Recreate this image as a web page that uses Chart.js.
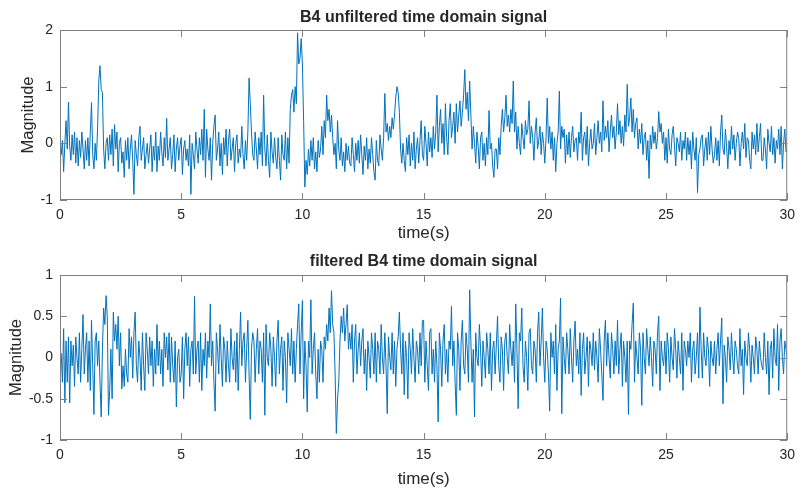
<!DOCTYPE html>
<html>
<head>
<meta charset="utf-8">
<script src="https://cdn.jsdelivr.net/npm/chart.js@4.4.1/dist/chart.umd.min.js"></script>
<style>
  html, body { margin: 0; padding: 0; background: #fff; }
  #wrap { position: relative; width: 802px; height: 491px; }
  canvas { position: absolute; left: 0; }
  #topChart { top: 0; }
  #bottomChart { top: 245px; }
</style>
</head>
<body>
<div id="wrap">
  <canvas id="topChart" width="802" height="245"></canvas>
  <canvas id="bottomChart" width="802" height="246"></canvas>
</div>
<script>
// sampled signal, 20 values per second, 0..30 s (one row = one second)
const sampleStep = 0.05;

const unfiltered = [
  0.1, -0.2, 0.05, -0.5, 0.0, 0.4, -0.1, 0.73, -0.05, -0.3, 0.15, -0.2, 0.2, -0.35, 0.1, -0.4, 0.05, -0.25, 0.2, -0.1,
  -0.45, 0.05, -0.3, 0.1, -0.4, 0.2, 0.72, -0.2, -0.45, 0.0, -0.3, 0.25, 1.1, 1.37, 0.95, 0.9, -0.1, -0.45, 0.0, 0.1,
  -0.3, 0.15, -0.2, 0.25, -0.4, 0.33, -0.1, 0.2, -0.5, 0.0, 0.1, -0.35, -0.15, -0.6, 0.05, -0.3, 0.1, -0.45, -0.1, 0.15,
  -0.3, -0.9, 0.05, -0.2, -0.4, 0.1, 0.3, -0.3, -0.1, 0.1, -0.45, -0.2, 0.0, -0.35, -0.1, 0.15, -0.5, -0.05, -0.3, 0.2,
  -0.5, -0.05, -0.3, 0.2, -0.15, -0.4, 0.1, -0.25, 0.44, -0.3, -0.1, 0.1, -0.45, -0.2, 0.15, -0.5, -0.1, 0.1, -0.3, -0.05,
  0.1, -0.55, -0.1, 0.05, -0.3, -0.1, -0.4, 0.15, -0.9, 0.0, -0.2, -0.45, 0.2, -0.1, -0.35, 0.1, -0.2, 0.25, -0.3, 0.6,
  -0.6, 0.25, -0.1, -0.3, 0.1, -0.65, 0.0, 0.3, 0.5, -0.3, -0.1, 0.2, -0.4, 0.0, -0.55, 0.1, -0.2, 0.25, -0.4, 0.05,
  0.25, -0.3, -0.1, 0.1, -0.5, 0.0, 0.15, -0.35, -0.1, -0.25, 0.3, -0.2, -0.45, 0.05, -0.3, 0.2, 1.15, 0.7, 0.2, -0.2,
  -0.3, 0.2, -0.1, -0.45, 0.1, -0.2, 0.2, -0.4, 0.85, -0.1, -0.4, 0.15, -0.3, -0.6, 0.2, -0.15, -0.35, 0.1, -0.25, -0.45,
  0.1, -0.3, -0.65, 0.15, -0.2, -0.3, 0.2, -0.45, 0.1, -0.35, 0.6, 0.85, 0.95, 0.55, 1.0, 0.7, 1.95, 1.4, 1.5, 1.85,
  1.4, 0.4, -0.77, -0.3, -0.55, -0.1, -0.4, 0.05, -0.3, 0.1, -0.45, -0.15, -0.5, 0.05, -0.25, -0.1, 0.3, -0.2, 0.4, 0.1,
  0.85, 0.4, 0.6, 0.2, 0.5, 0.1, -0.2, 0.0, -0.45, 0.4, -0.1, -0.3, 0.1, -0.4, -0.15, -0.5, 0.0, -0.3, -0.05, -0.35,
  -0.4, 0.1, -0.2, -0.5, 0.0, -0.3, 0.05, -0.35, 0.15, -0.2, -0.55, -0.05, -0.3, 0.1, -0.45, -0.1, -0.35, 0.1, -0.2, -0.5,
  -0.65, 0.05, -0.3, -0.4, 0.15, -0.1, -0.3, 0.1, 0.88, 0.2, 0.35, 0.05, 0.3, 0.1, 0.45, 0.25, 0.5, 0.8, 1.0, 0.9,
  0.55, -0.1, -0.35, 0.0, -0.3, -0.5, 0.1, -0.2, 0.15, -0.4, 0.0, -0.3, 0.2, -0.45, -0.1, 0.1, -0.35, 0.05, 0.4, -0.2,
  -0.3, 0.3, 0.0, -0.4, 0.2, -0.15, 0.1, -0.25, 0.3, -0.1, 0.2, 0.85, -0.15, 0.3, 0.6, 0.0, 0.35, -0.2, 0.7, 0.1,
  -0.2, 0.4, 0.7, 0.1, 0.3, 0.55, 0.0, 0.7, 0.2, 0.5, 0.75, 0.3, 0.55, 0.85, 1.3, 0.6, 0.9, 0.4, 1.1, 0.5,
  -0.1, 0.3, 0.0, -0.35, 0.2, -0.05, -0.45, 0.1, 0.2, -0.3, 0.0, -0.4, 0.1, -0.2, 0.58, -0.1, 0.0, -0.4, -0.6, -0.1,
  -0.1, -0.45, 0.1, -0.2, 0.3, 0.6, 0.2, 0.45, 0.85, 0.3, 0.5, 0.2, 0.6, 0.35, 1.1, 0.2, 0.55, -0.1, 0.3, 0.0,
  -0.2, 0.35, 0.1, -0.1, 0.4, 0.15, 0.25, 0.75, 0.0, 0.3, 0.1, -0.3, 0.2, 0.45, -0.1, 0.05, 0.3, -0.2, 0.2, 0.0,
  -0.35, 0.1, 0.8, 0.0, 0.3, -0.1, 0.2, -0.3, 0.1, -0.5, 0.0, 0.2, 0.92, -0.1, 0.3, 0.1, 0.25, -0.35, 0.15, -0.2,
  0.2, -0.25, 0.1, 0.3, -0.15, 0.05, 0.1, -0.3, 0.2, 0.0, 0.55, -0.3, 0.1, 0.2, -0.2, 0.3, -0.4, 0.0, 0.25, -0.1,
  0.0, 0.35, -0.2, 0.1, 0.4, 0.0, 0.2, -0.15, 0.75, 0.05, 0.3, 0.1, 0.4, -0.15, 0.2, 0.5, 0.1, 0.3, -0.1, 0.2,
  0.7, 0.15, 0.4, 0.0, 0.3, -0.05, 0.5, 0.2, 1.04, 0.3, 0.45, 0.8, 0.2, 0.6, 0.1, 0.35, 0.45, -0.1, 0.25, 0.0,
  0.35, -0.2, 0.1, 0.2, -0.3, 0.05, -0.62, 0.15, -0.1, 0.3, 0.0, 0.2, -0.1, 0.1, 0.56, 0.2, 0.35, 0.0, 0.2, -0.3,
  0.1, -0.35, 0.25, -0.1, -0.2, 0.15, 0.3, -0.05, -0.4, 0.1, 0.0, -0.15, 0.2, -0.3, 0.05, -0.1, 0.2, -0.3, 0.1, -0.2,
  0.05, -0.45, 0.2, -0.1, -0.3, 0.1, -0.87, -0.2, -0.1, 0.1, 0.15, -0.4, -0.1, 0.1, -0.3, 0.2, -0.2, 0.3, -0.1, -0.35,
  -0.2, 0.1, -0.3, 0.05, -0.4, 0.2, 0.5, -0.1, -0.2, 0.25, -0.05, -0.45, 0.05, -0.2, 0.3, -0.1, 0.15, -0.3, 0.0, 0.2,
  0.1, -0.4, 0.0, 0.2, -0.1, 0.35, -0.25, 0.1, 0.05, -0.3, -0.45, 0.2, -0.1, 0.15, -0.2, 0.35, -0.15, 0.1, 0.35, -0.3,
  -0.3, 0.1, -0.1, -0.45, 0.25, 0.0, -0.15, 0.3, -0.2, 0.1, -0.35, 0.05, -0.1, 0.25, -0.2, 0.3, -0.45, 0.0, 0.25, -0.15,
  -0.1
];

const filtered = [
  0.0, 0.05, -0.3, 0.35, -0.55, 0.2, -0.3, 0.25, -0.55, 0.2, -0.1, 0.15, -0.35, 0.25, 0.0, -0.2, 0.3, -0.3, 0.1, 0.52,
  -0.2, 0.1, 0.3, -0.3, 0.2, -0.4, 0.45, -0.1, -0.69, 0.2, 0.3, -0.1, 0.2, -0.3, -0.72, 0.1, 0.6, 0.4, 0.75, 0.5,
  -0.7, -0.4, 0.1, -0.5, 0.55, 0.2, 0.4, 0.1, 0.5, -0.1, 0.3, -0.38, -0.1, -0.35, 0.1, -0.2, -0.3, 0.35, 0.0, 0.25,
  -0.25, 0.3, 0.55, -0.1, -0.3, 0.2, 0.0, -0.4, 0.3, -0.1, -0.4, 0.3, 0.1, -0.2, 0.25, -0.1, 0.2, -0.35, 0.1, -0.2,
  0.4, -0.1, 0.2, -0.2, 0.1, -0.35, 0.3, 0.0, 0.25, -0.15, 0.3, -0.3, 0.25, -0.1, -0.3, 0.2, -0.6, 0.0, 0.1, -0.3,
  -0.2, 0.25, -0.5, 0.1, 0.3, -0.1, 0.25, -0.35, 0.1, 0.2, -0.2, 0.74, -0.2, 0.1, 0.2, -0.3, 0.3, -0.4, 0.1, -0.1,
  0.3, -0.25, 0.2, 0.0, 0.65, -0.1, 0.2, -0.3, -0.65, 0.3, 0.1, -0.2, 0.4, 0.0, -0.35, 0.25, 0.1, -0.3, 0.2, -0.1,
  -0.3, 0.35, 0.0, -0.15, 0.2, -0.3, 0.3, -0.4, 0.1, 0.55, -0.1, 0.2, 0.3, -0.3, 0.1, 0.45, -0.2, -0.75, 0.1, 0.3,
  0.2, -0.3, 0.1, 0.35, -0.2, 0.2, 0.1, -0.3, 0.3, -0.7, 0.4, 0.0, -0.1, 0.3, 0.1, -0.35, 0.25, 0.0, -0.35, 0.2,
  0.45, -0.2, 0.1, 0.25, -0.4, 0.2, 0.0, -0.55, 0.3, 0.1, -0.1, 0.35, -0.2, 0.2, -0.3, 0.1, 0.4, 0.65, -0.2, 0.3,
  0.69, -0.5, 0.2, -0.1, -0.66, 0.2, 0.0, 0.7, -0.2, 0.1, 0.3, -0.2, -0.5, 0.1, -0.3, 0.2, 0.1, -0.3, 0.25, 0.1,
  0.4, 0.2, 0.6, 0.3, 0.81, 0.4, 0.3, -0.2, -0.92, -0.5, -0.3, 0.2, 0.5, 0.3, 0.6, 0.2, 0.4, 0.64, 0.1, 0.3,
  0.1, 0.4, -0.3, 0.2, 0.4, -0.2, 0.1, 0.3, -0.1, 0.2, 0.35, -0.2, 0.1, -0.4, 0.2, 0.0, -0.25, 0.3, 0.1, -0.2,
  0.3, -0.3, 0.2, 0.1, -0.2, 0.4, 0.0, -0.2, 0.3, -0.1, -0.68, 0.25, 0.0, -0.15, 0.3, -0.2, 0.2, -0.35, 0.1, 0.25,
  0.55, 0.1, -0.2, 0.3, -0.45, 0.2, 0.0, -0.5, 0.3, 0.1, -0.2, 0.35, 0.0, -0.3, 0.2, 0.1, -0.2, 0.3, -0.1, 0.45,
  0.45, -0.3, 0.2, -0.1, -0.4, 0.3, 0.35, -0.2, 0.1, -0.3, 0.2, -0.1, -0.78, 0.3, 0.1, -0.35, 0.2, 0.4, -0.2, 0.1,
  -0.3, 0.2, 0.1, 0.62, -0.1, 0.2, -0.3, -0.7, 0.3, 0.1, -0.4, 0.2, 0.45, -0.1, -0.2, 0.3, 0.1, -0.3, 0.82, 0.2,
  -0.3, 0.1, -0.72, 0.3, 0.0, -0.1, 0.4, 0.1, -0.35, 0.2, 0.0, -0.25, 0.3, 0.1, -0.2, 0.3, -0.4, 0.1, 0.2, -0.2,
  0.15, 0.5, -0.1, -0.3, 0.25, 0.1, -0.4, 0.2, 0.3, 0.0, -0.2, 0.4, 0.1, -0.1, 0.2, -0.3, 0.65, 0.1, -0.62, 0.3,
  0.2, 0.6, -0.1, -0.3, 0.2, 0.0, -0.4, 0.3, 0.35, -0.1, -0.2, 0.2, 0.1, -0.3, 0.3, 0.55, -0.1, 0.2, 0.6, 0.0,
  -0.3, 0.2, 0.1, -0.2, -0.65, 0.3, 0.0, 0.2, -0.2, 0.4, -0.4, 0.1, 0.2, 0.72, -0.68, 0.25, 0.0, -0.2, 0.3, 0.1,
  -0.2, 0.35, 0.0, -0.3, 0.2, 0.44, -0.1, 0.1, -0.2, 0.3, -0.46, 0.1, 0.3, -0.2, 0.0, 0.25, -0.35, 0.2, 0.1, -0.1,
  0.3, -0.15, 0.2, 0.0, -0.3, 0.35, 0.1, -0.2, -0.52, 0.2, 0.45, -0.1, 0.3, 0.0, -0.25, 0.3, 0.1, -0.2, 0.2, -0.1,
  0.45, -0.2, 0.1, 0.3, -0.35, 0.2, 0.0, -0.3, 0.2, -0.69, 0.2, 0.1, 0.4, 0.66, -0.3, 0.2, 0.0, -0.2, 0.3, 0.1,
  -0.58, 0.3, 0.0, -0.2, 0.35, 0.1, -0.1, 0.25, 0.0, -0.35, 0.2, 0.1, -0.2, 0.3, 0.5, -0.4, 0.2, 0.0, -0.1, 0.2,
  -0.2, 0.3, 0.1, -0.3, 0.25, 0.0, -0.15, 0.35, 0.1, -0.25, 0.2, 0.0, -0.2, 0.3, -0.4, 0.2, 0.1, -0.1, 0.2, 0.0,
  0.3, -0.3, 0.1, 0.2, -0.2, 0.0, 0.3, -0.25, 0.61, 0.1, -0.25, 0.3, 0.0, -0.1, 0.25, 0.1, -0.35, 0.2, 0.0, -0.1,
  0.2, -0.2, 0.1, 0.3, -0.1, 0.2, 0.48, -0.56, 0.15, 0.0, -0.3, 0.25, 0.1, -0.15, 0.3, 0.0, -0.2, 0.2, 0.1, -0.1,
  -0.2, 0.35, -0.1, 0.1, -0.45, 0.2, 0.0, -0.1, 0.3, 0.1, -0.3, 0.15, 0.0, -0.2, 0.25, 0.1, -0.2, 0.2, 0.0, -0.1,
  -0.15, 0.3, 0.0, -0.2, 0.2, -0.45, 0.1, 0.2, -0.25, 0.35, 0.0, -0.1, 0.4, -0.4, 0.2, 0.35, 0.0, -0.2, 0.2, 0.1,
  0.0
];

const xTicks = [0, 5, 10, 15, 20, 25, 30];
const topYTicks = [-1, 0, 1, 2];
const bottomYTicks = [-1, -0.5, 0, 0.5, 1];

const FONT = "'Liberation Sans', Arial, Helvetica, sans-serif";
const lineColor = '#0072BD';
const textColor = '#262626';
const boxColor = '#808080';

// box + inward tick marks, MATLAB style
const matlabBox = {
    id: 'matlabBox',
    afterDatasetsDraw(chart) {
        const { ctx, chartArea: a, scales: { x, y } } = chart;
        const tl = 7;
        ctx.save();
        ctx.strokeStyle = boxColor;
        ctx.lineWidth = 1;
        ctx.strokeRect(a.left + 0.5, a.top + 0.5, a.right - a.left - 1, a.bottom - a.top - 1);
        ctx.beginPath();
        x.ticks.forEach(t => {
            const px = Math.round(x.getPixelForValue(t.value)) + 0.5;
            ctx.moveTo(px, a.bottom); ctx.lineTo(px, a.bottom - tl);
            ctx.moveTo(px, a.top); ctx.lineTo(px, a.top + tl);
        });
        y.ticks.forEach(t => {
            const py = Math.round(y.getPixelForValue(t.value)) + 0.5;
            ctx.moveTo(a.left, py); ctx.lineTo(a.left + tl, py);
            ctx.moveTo(a.right, py); ctx.lineTo(a.right - tl, py);
        });
        ctx.stroke();
        ctx.restore();
    }
};

function makeChart(canvasId, titleText, values, yMin, yMax, yTicks, axisH, titleTop, yTitlePad) {
    const points = values.map((v, i) => ({ x: i * sampleStep, y: v }));
    return new Chart(document.getElementById(canvasId), {
        type: 'line',
        data: {
            datasets: [{
                data: points,
                borderColor: lineColor,
                borderWidth: 1,
                pointRadius: 0,
                tension: 0,
                fill: false
            }]
        },
        options: {
            responsive: false,
            animation: false,
            events: [],
            layout: { padding: { left: 0, right: 9, top: 0, bottom: 0 } },
            plugins: {
                legend: { display: false },
                tooltip: { enabled: false },
                title: {
                    display: true,
                    text: titleText,
                    fullSize: false,
                    color: textColor,
                    font: { family: FONT, size: 16, weight: 'bold', lineHeight: 1.2 },
                    padding: { top: titleTop, bottom: 30 - titleTop - 19.2 }
                }
            },
            scales: {
                x: {
                    type: 'linear',
                    min: 0, max: 30,
                    grid: { display: false, drawTicks: false },
                    border: { display: false },
                    afterBuildTicks: s => { s.ticks = xTicks.map(v => ({ value: v })); },
                    afterFit: s => { s.height = axisH; },
                    ticks: { color: textColor, padding: 7, font: { family: FONT, size: 14 } },
                    title: {
                        display: true, text: 'time(s)', color: textColor,
                        font: { family: FONT, size: 17, lineHeight: 1.2 },
                        padding: { top: 0, bottom: 1 }
                    }
                },
                y: {
                    min: yMin, max: yMax,
                    grid: { display: false, drawTicks: false },
                    border: { display: false },
                    afterBuildTicks: s => { s.ticks = yTicks.map(v => ({ value: v })); },
                    afterFit: s => { s.width = 60; },
                    ticks: {
                        color: textColor, padding: 7, font: { family: FONT, size: 14 },
                        callback: v => String(v)
                    },
                    title: {
                        display: true, text: 'Magnitude', color: textColor,
                        font: { family: FONT, size: 16.5, lineHeight: 1.2 },
                        padding: { top: yTitlePad, bottom: 0 }
                    }
                }
            }
        },
        plugins: [matlabBox]
    });
}

makeChart('topChart', 'B4 unfiltered time domain signal', unfiltered, -1, 2, topYTicks, 45, 8.4, 19);
makeChart('bottomChart', 'filtered B4 time domain signal', filtered, -1, 1, bottomYTicks, 51, 7.4, 7);
</script>
</body>
</html>
